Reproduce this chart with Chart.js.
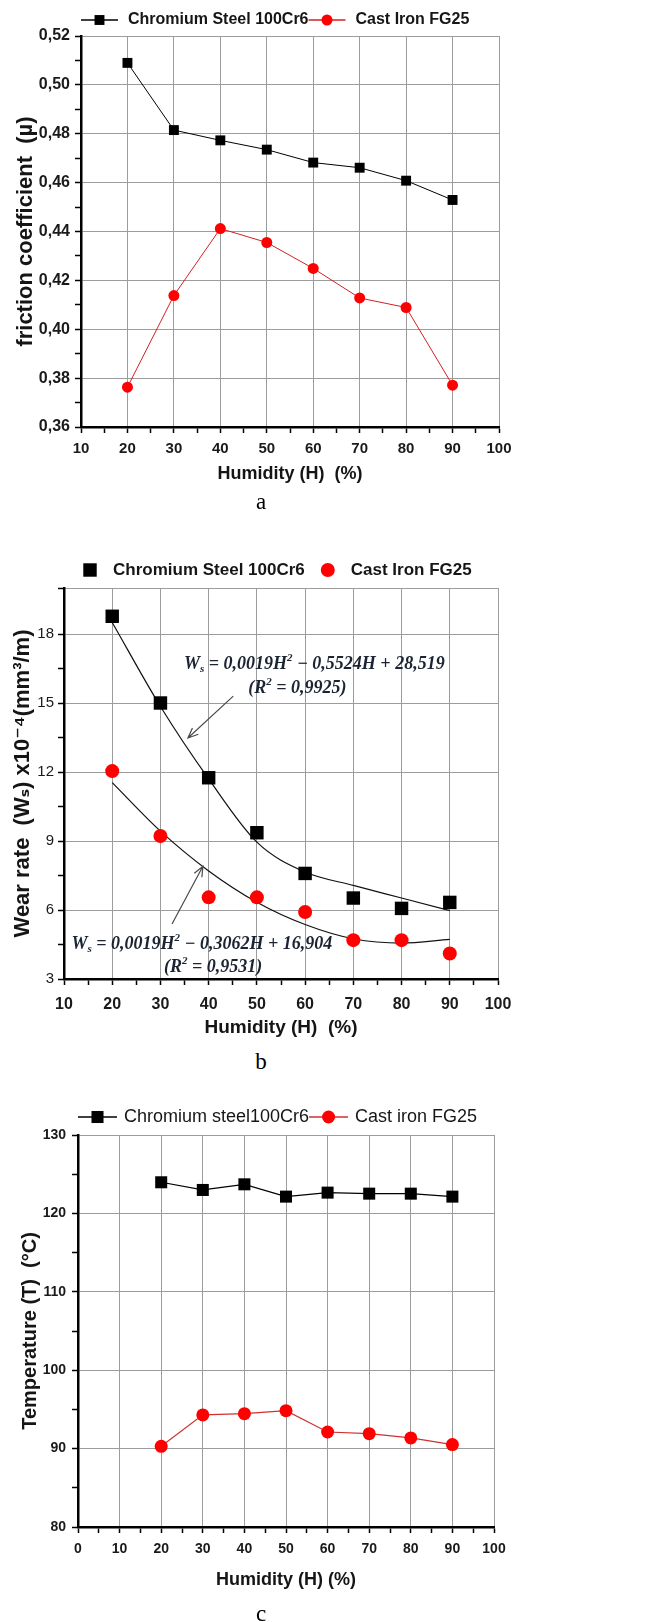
<!DOCTYPE html>
<html>
<head>
<meta charset="utf-8">
<script src="https://cdn.jsdelivr.net/npm/chart.js@4.4.1/dist/chart.umd.min.js"></script>
<style>
  body { margin: 0; background: #fff; width: 659px; height: 1622px; position: relative; overflow: hidden; }
  canvas { position: absolute; left: 0; }
  .lbl { position: absolute; left: 241px; width: 40px; text-align: center; font-family: "Liberation Serif", serif; font-size: 23px; line-height: 26px; color: #000; }
</style>
</head>
<body>
<canvas id="chartA" width="659" height="490" style="top:0px"></canvas>
<div class="lbl" style="top:489px">a</div>
<canvas id="chartB" width="659" height="503" style="top:540px"></canvas>
<div class="lbl" style="top:1049px">b</div>
<canvas id="chartC" width="659" height="537" style="top:1085px"></canvas>
<div class="lbl" style="top:1601px">c</div>

<script>
// humidity levels (%)
var humidity = [20, 30, 40, 50, 60, 70, 80, 90];
var steelName = ['Chromium Steel 100Cr6', 'Chromium steel100Cr6'];
var ironName = ['Cast Iron FG25', 'Cast iron FG25'];

// a - friction coefficient
var frictionSteel = [0.509, 0.4815, 0.4773, 0.4735, 0.4682, 0.4661, 0.4608, 0.4529];
var frictionIron = [0.3763, 0.4138, 0.4412, 0.4355, 0.4249, 0.4128, 0.4089, 0.3771];

// b - wear rate (x10^-4 mm3/m) and the drawn trend curves
var wearSteel = [18.77, 15.0, 11.75, 9.36, 7.59, 6.52, 6.07, 6.33];
var wearIron = [12.04, 9.22, 6.55, 6.55, 5.91, 4.69, 4.69, 4.11];
var wearSteelFit = [18.5, 14.85, 11.7, 8.95, 7.65, 7.07, 6.52, 5.97];
var wearIronFit = [11.54, 9.43, 7.70, 6.34, 5.37, 4.75, 4.56, 4.72];

// c - temperature (C)
var tempSteel = [123.97, 122.99, 123.71, 122.14, 122.65, 122.52, 122.52, 122.14];
var tempIron = [90.29, 94.3, 94.46, 94.84, 92.12, 91.91, 91.36, 90.51];

var SANS = '"Liberation Sans", Arial, "DejaVu Sans", sans-serif';

function pts(values) {
  return humidity.map(function (h, i) { return { x: h, y: values[i] }; });
}

// legend like Origin: line + marker + text, drawn on the canvas
var lineLegend = {
  id: 'lineLegend',
  afterDraw: function (chart, args, opts) {
    if (!opts || !opts.datasets) return;
    var ctx = chart.ctx;
    var x = opts.x;
    ctx.save();
    ctx.font = opts.font;
    ctx.textBaseline = 'middle';
    opts.datasets.forEach(function (di) {
      var ds = chart.data.datasets[di];
      var mx;
      if (opts.line) {
        ctx.strokeStyle = ds.borderColor;
        ctx.lineWidth = 1.5;
        ctx.beginPath();
        ctx.moveTo(x, opts.y);
        ctx.lineTo(x + opts.lineLen, opts.y);
        ctx.stroke();
        mx = x + opts.lineLen / 2;
      } else {
        mx = x + opts.markerOffset;
      }
      ctx.fillStyle = ds.pointBackgroundColor;
      if (ds.pointStyle === 'rect') {
        var s = ds.pointRadius * Math.SQRT1_2;
        ctx.fillRect(mx - s, opts.y - s, 2 * s, 2 * s);
      } else {
        ctx.beginPath();
        ctx.arc(mx, opts.y, ds.pointRadius, 0, Math.PI * 2);
        ctx.fill();
      }
      var tx = opts.line ? x + opts.lineLen + opts.textGap : mx + opts.textGap;
      ctx.fillStyle = '#161616';
      ctx.fillText(ds.label, tx, opts.y);
      x = tx + ctx.measureText(ds.label).width + opts.itemGap;
    });
    ctx.restore();
  }
};

// text with sub/superscripts, centred at (cx, cy)
function richText(ctx, parts, cx, cy, size) {
  var base = 'italic bold ' + size + 'px "Liberation Serif", "DejaVu Serif", serif';
  var small = 'italic bold ' + Math.round(size * 0.62) + 'px "Liberation Serif", "DejaVu Serif", serif';
  var total = 0;
  parts.forEach(function (p) {
    ctx.font = p.sub || p.sup ? small : base;
    p.w = ctx.measureText(p.t).width;
    total += p.w;
  });
  var x = cx - total / 2;
  parts.forEach(function (p) {
    ctx.font = p.sub || p.sup ? small : base;
    var dy = p.sub ? size * 0.3 : (p.sup ? -size * 0.35 : 0);
    ctx.fillText(p.t, x, cy + dy);
    x += p.w;
  });
}

var equations = {
  id: 'equations',
  afterDatasetsDraw: function (chart, args, opts) {
    if (!opts || !opts.labels) return;
    var xs = chart.scales.x, ys = chart.scales.y, ctx = chart.ctx;
    ctx.save();
    ctx.strokeStyle = '#4a4a4a';
    ctx.lineWidth = 1.2;
    opts.arrows.forEach(function (a) {
      var x0 = xs.getPixelForValue(a[0]), y0 = ys.getPixelForValue(a[1]);
      var x1 = xs.getPixelForValue(a[2]), y1 = ys.getPixelForValue(a[3]);
      var ang = Math.atan2(y1 - y0, x1 - x0);
      ctx.beginPath();
      ctx.moveTo(x0, y0);
      ctx.lineTo(x1, y1);
      ctx.moveTo(x1 - 11 * Math.cos(ang - 0.4), y1 - 11 * Math.sin(ang - 0.4));
      ctx.lineTo(x1, y1);
      ctx.lineTo(x1 - 11 * Math.cos(ang + 0.4), y1 - 11 * Math.sin(ang + 0.4));
      ctx.stroke();
    });
    ctx.fillStyle = '#1b2432';
    ctx.textAlign = 'left';
    ctx.textBaseline = 'middle';
    opts.labels.forEach(function (l) {
      richText(ctx, l.parts, xs.getPixelForValue(l.at[0]), ys.getPixelForValue(l.at[1]), 18);
    });
    ctx.restore();
  }
};

function gridFor(isMajor) {
  return {
    color: function (c) { return c.tick && isMajor(c.tick.value) ? '#9c9c9c' : 'rgba(0,0,0,0)'; },
    lineWidth: 1,
    drawTicks: true,
    tickLength: 6,
    tickColor: '#000',
    tickWidth: 1.5
  };
}

function xScale(min, fontSize, axisH, labelPad, titleSize, titleBottom) {
  return {
    type: 'linear',
    min: min, max: 100,
    border: { color: '#000', width: 2.5 },
    grid: gridFor(function (v) { return v % 10 === 0; }),
    ticks: {
      stepSize: 5, autoSkip: false, maxRotation: 0, padding: labelPad, color: '#1a1a1a',
      font: { family: SANS, size: fontSize, weight: 'bold' },
      callback: function (v) { return v % 10 === 0 ? String(v) : ''; }
    },
    title: {
      display: true, text: 'Humidity (H)  (%)', color: '#151515',
      font: { family: SANS, size: titleSize, weight: 'bold' },
      padding: { top: 0, bottom: titleBottom }
    },
    afterFit: function (s) { s.height = axisH; }
  };
}

var xA = xScale(10, 15, 63, 7, 18, 5);
var xB = xScale(10, 16, 64, 10, 19, 4);
var xC = xScale(0, 14, 95, 8, 18, 31);
xC.title.text = 'Humidity (H) (%)';

new Chart(document.getElementById('chartA'), {
  type: 'line',
  data: {
    datasets: [
      { label: steelName[0], data: pts(frictionSteel), borderColor: '#000', borderWidth: 1,
        pointStyle: 'rect', pointRadius: 7, pointBackgroundColor: '#000', pointBorderColor: '#000', pointBorderWidth: 0 },
      { label: ironName[0], data: pts(frictionIron), borderColor: '#d42020', borderWidth: 1,
        pointStyle: 'circle', pointRadius: 5.5, pointBackgroundColor: '#ff0000', pointBorderColor: '#ff0000', pointBorderWidth: 0 }
    ]
  },
  options: {
    responsive: false, animation: false,
    layout: { padding: { top: 36, right: 160, left: 0, bottom: 0 } },
    plugins: {
      legend: { display: false }, tooltip: { enabled: false },
      lineLegend: { x: 81, y: 20, line: true, lineLen: 37, textGap: 10, itemGap: 0,
        font: 'bold 16px ' + SANS, datasets: [0, 1] }
    },
    scales: {
      x: xA,
      y: {
        min: 0.36, max: 0.52,
        border: { color: '#000', width: 2.5 },
        grid: gridFor(function (v) { return Math.round(v * 100) % 2 === 0; }),
        ticks: {
          stepSize: 0.01, autoSkip: false, padding: 5, color: '#1a1a1a',
          font: { family: SANS, size: 16, weight: 'bold' },
          callback: function (v) {
            var k = Math.round(v * 100);
            return k % 2 === 0 ? (k / 100).toFixed(2).replace('.', ',') : '';
          }
        },
        title: { display: true, text: 'friction coefficient  (µ)', color: '#151515',
          font: { family: SANS, size: 22, weight: 'bold' }, padding: { top: 13, bottom: 0 } },
        afterFit: function (s) { s.width = 81; }
      }
    }
  },
  plugins: [lineLegend]
});

new Chart(document.getElementById('chartB'), {
  type: 'line',
  data: {
    datasets: [
      { label: steelName[0], data: pts(wearSteel), showLine: false, borderColor: '#000',
        pointStyle: 'rect', pointRadius: 9.5, pointBackgroundColor: '#000', pointBorderColor: '#000', pointBorderWidth: 0 },
      { label: ironName[0], data: pts(wearIron), showLine: false, borderColor: '#ff0000',
        pointStyle: 'circle', pointRadius: 7, pointBackgroundColor: '#ff0000', pointBorderColor: '#ff0000', pointBorderWidth: 0 },
      { label: 'steel fit', data: pts(wearSteelFit), borderColor: '#111', borderWidth: 1.2,
        pointRadius: 0, cubicInterpolationMode: 'monotone' },
      { label: 'iron fit', data: pts(wearIronFit), borderColor: '#111', borderWidth: 1.2,
        pointRadius: 0, cubicInterpolationMode: 'monotone' }
    ]
  },
  options: {
    responsive: false, animation: false,
    layout: { padding: { top: 48, right: 161, left: 0, bottom: 0 } },
    plugins: {
      legend: { display: false }, tooltip: { enabled: false },
      lineLegend: { x: 83, y: 30, line: false, markerOffset: 7, textGap: 23, itemGap: 16,
        font: 'bold 17px ' + SANS, datasets: [0, 1] },
      equations: {
        arrows: [[45.1, 15.3, 35.7, 13.48], [32.4, 5.39, 38.8, 7.9]],
        labels: [
          { at: [61.9, 16.69], parts: [{ t: 'W' }, { t: 's', sub: true }, { t: ' = 0,0019H' }, { t: '2', sup: true }, { t: ' − 0,5524H + 28,519' }] },
          { at: [58.4, 15.65], parts: [{ t: '(R' }, { t: '2', sup: true }, { t: ' = 0,9925)' }] },
          { at: [38.6, 4.52], parts: [{ t: 'W' }, { t: 's', sub: true }, { t: ' = 0,0019H' }, { t: '2', sup: true }, { t: ' − 0,3062H + 16,904' }] },
          { at: [40.9, 3.52], parts: [{ t: '(R' }, { t: '2', sup: true }, { t: ' = 0,9531)' }] }
        ]
      }
    },
    scales: {
      x: xB,
      y: {
        min: 3, max: 20,
        border: { color: '#000', width: 2.5 },
        grid: gridFor(function (v) { return v >= 20 || Math.abs(v / 3 - Math.round(v / 3)) < 1e-6; }),
        ticks: {
          stepSize: 1.5, autoSkip: false, padding: 4, color: '#1a1a1a',
          font: { family: SANS, size: 15 },
          callback: function (v) { return v < 20 && Math.abs(v / 3 - Math.round(v / 3)) < 1e-6 ? String(v) : ''; }
        },
        title: { display: true, text: 'Wear rate  (Wₛ) x10⁻⁴(mm³/m)', color: '#151515',
          font: { family: SANS, size: 22, weight: 'bold' }, padding: { top: 10, bottom: 0 } },
        afterFit: function (s) { s.width = 64; }
      }
    }
  },
  plugins: [lineLegend, equations]
});

new Chart(document.getElementById('chartC'), {
  type: 'line',
  data: {
    datasets: [
      { label: steelName[1], data: pts(tempSteel), borderColor: '#000', borderWidth: 1.2,
        pointStyle: 'rect', pointRadius: 8.5, pointBackgroundColor: '#000', pointBorderColor: '#000', pointBorderWidth: 0 },
      { label: ironName[1], data: pts(tempIron), borderColor: '#d03030', borderWidth: 1.2,
        pointStyle: 'circle', pointRadius: 6.5, pointBackgroundColor: '#ff0000', pointBorderColor: '#ff0000', pointBorderWidth: 0 }
    ]
  },
  options: {
    responsive: false, animation: false,
    layout: { padding: { top: 50, right: 165, left: 0, bottom: 0 } },
    plugins: {
      legend: { display: false }, tooltip: { enabled: false },
      lineLegend: { x: 78, y: 32, line: true, lineLen: 39, textGap: 7, itemGap: 0,
        font: '18px ' + SANS, datasets: [0, 1] }
    },
    scales: {
      x: xC,
      y: {
        min: 80, max: 130,
        border: { color: '#000', width: 2.5 },
        grid: gridFor(function (v) { return v % 10 === 0; }),
        ticks: {
          stepSize: 5, autoSkip: false, padding: 6, color: '#1a1a1a',
          font: { family: SANS, size: 14, weight: 'bold' },
          callback: function (v) { return v % 10 === 0 ? String(v) : ''; }
        },
        title: { display: true, text: 'Temperature (T)  (°C)', color: '#151515',
          font: { family: SANS, size: 20, weight: 'bold' }, padding: { top: 18, bottom: 0 } },
        afterFit: function (s) { s.width = 78; }
      }
    }
  },
  plugins: [lineLegend]
});
</script>
</body>
</html>
